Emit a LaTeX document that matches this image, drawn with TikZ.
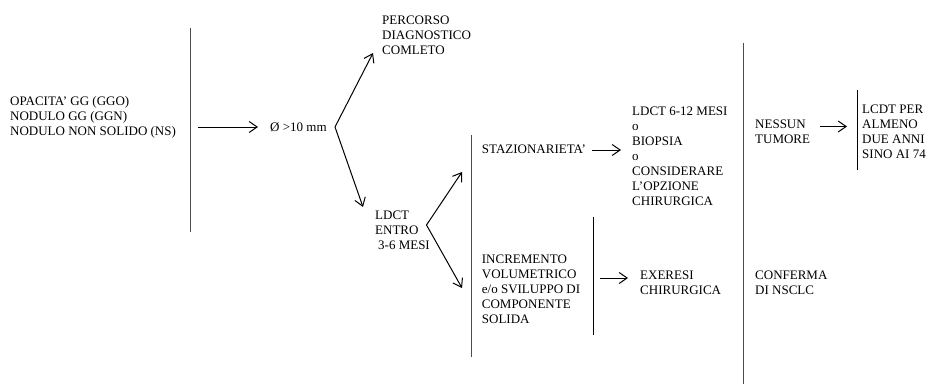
\documentclass[tikz,border=0pt]{standalone}
\usepackage{fontspec}
\setmainfont{Liberation Serif}
\usetikzlibrary{arrows.meta}
\tikzset{
  txt/.style={anchor=north west, inner sep=0pt, align=left,
    font=\fontsize{13}{15}\selectfont, execute at begin node={\rule{0pt}{10pt}}},
  vbar/.style={line width=1pt, draw=black!70},
  vbarb/.style={line width=1pt, draw=black},
  arr/.style={line width=1pt, -{Straight Barb[length=8pt,width=11pt,line width=1pt]}}
}
\begin{document}
\begin{tikzpicture}[x=1pt,y=-1pt]
\useasboundingbox (0,0) rectangle (932,388);
% texts
\node[txt] (opac) at (10,96) {OPACITA’ GG (GGO)\\NODULO GG (GGN)\\NODULO NON SOLIDO (NS)};
\node[txt] (diam) at (270,121.3) {Ø >10 mm};
\node[txt] (perc) at (382,16) {PERCORSO\\DIAGNOSTICO\\COMLETO};
\node[txt] (ldct) at (375,211) {LDCT\\ENTRO\\\hspace{3pt}3-6 MESI};
\node[txt] (staz) at (481.7,142.8) {STAZIONARIETA’};
\node[txt] (incr) at (481.7,254.3) {INCREMENTO\\VOLUMETRICO\\e/o SVILUPPO DI\\COMPONENTE\\SOLIDA};
\node[txt] (ldcb) at (632,106.3) {LDCT 6-12 MESI\\o\\BIOPSIA\\o\\CONSIDERARE\\L’OPZIONE\\CHIRURGICA};
\node[txt] (exer) at (640,271) {EXERESI\\CHIRURGICA};
\node[txt] (ness) at (755,119.3) {NESSUN\\TUMORE};
\node[txt] (conf) at (755,271) {CONFERMA\\DI NSCLC};
\node[txt] (lcdt) at (862,104.3) {LCDT PER\\ALMENO\\DUE ANNI\\SINO AI 74};
% coordinates
\coordinate (v1t) at (190,28);   \coordinate (v1b) at (190,232);
\coordinate (v2t) at (471.5,135); \coordinate (v2b) at (471.5,357);
\coordinate (v3t) at (593,216.7); \coordinate (v3b) at (593,335);
\coordinate (v4t) at (743.5,43); \coordinate (v4b) at (743.5,384);
\coordinate (v5t) at (857,90);   \coordinate (v5b) at (857,170);
\coordinate (a1s) at (198,127);  \coordinate (a1e) at (258,127);
\coordinate (ap1) at (335,127);  \coordinate (ap1u) at (373,53); \coordinate (ap1d) at (363,207);
\coordinate (ap2) at (426.5,225); \coordinate (ap2u) at (462,172); \coordinate (ap2d) at (462,288);
\coordinate (ass) at (592,150);  \coordinate (ase) at (621,150);
\coordinate (aes) at (600,278);  \coordinate (aee) at (628,278);
\coordinate (ans) at (820,126.5); \coordinate (ane) at (847,126.5);
% lines
\draw[vbar] (v1t) -- (v1b);
\draw[vbar] (v2t) -- (v2b);
\draw[vbarb] (v3t) -- (v3b);
\draw[vbar] (v4t) -- (v4b);
\draw[vbarb] (v5t) -- (v5b);
% arrows
\draw[arr] (a1s) -- (a1e);
\draw[arr] (ap1) -- (ap1u);
\draw[arr] (ap1) -- (ap1d);
\draw[arr] (ap2) -- (ap2u);
\draw[arr] (ap2) -- (ap2d);
\draw[arr] (ass) -- (ase);
\draw[arr] (aes) -- (aee);
\draw[arr] (ans) -- (ane);
\end{tikzpicture}
\end{document}
